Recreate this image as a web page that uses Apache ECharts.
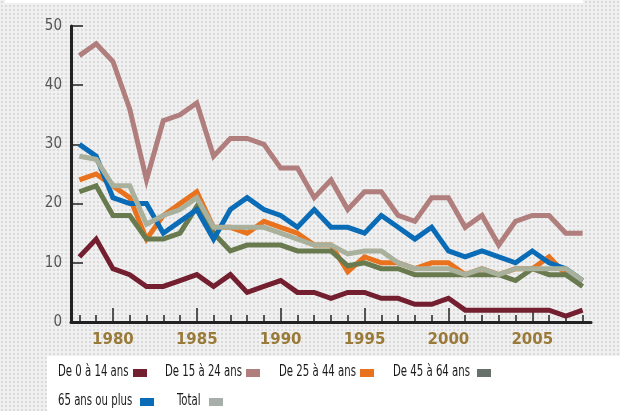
<!DOCTYPE html>
<html><head><meta charset="utf-8">
<script src="https://cdn.jsdelivr.net/npm/echarts@6/dist/echarts.min.js"></script>
<style>html,body{margin:0;padding:0;}#c{width:620px;height:411px;}</style>
</head><body><div id="c"></div>
<script>
const years = ['1978','1979','1980','1981','1982','1983','1984','1985','1986','1987','1988','1989','1990','1991','1992','1993','1994','1995','1996','1997','1998','1999','2000','2001','2002','2003','2004','2005','2006','2007','2008'];
const age0_14  = [11,14,9,8,6,6,7,8,6,8,5,6,7,5,5,4,5,5,4,4,3,3,4,2,2,2,2,2,2,1,2];
const age15_24 = [45,47,44,36,24,34,35,37,28,31,31,30,26,26,21,24,19,22,22,18,17,21,21,16,18,13,17,18,18,15,15];
const age25_44 = [24,25,23,21,14,18,20,22,16,16,15,17,16,15,13,13,8.5,11,10,10,9,10,10,8,9,8,9,9,11,8,7];
const age45_64 = [22,23,18,18,14,14,15,19.5,15,12,13,13,13,12,12,12,9.5,10,9,9,8,8,8,8,8,8,7,9,8,8,6];
const age65    = [30,28,21,20,20,15,17,19,14,19,21,19,18,16,19,16,16,15,18,16,14,16,12,11,12,11,10,12,10,9,7];
const total    = [28,27.5,23,23,16.5,18,19,21,16,16,16,16,15,14,13,13,11.5,12,12,10,9,9,9,8,9,8,9,9,9,9,7];
const yTicks = [0,10,20,30,40,50];

const names = ['De 0 à 14 ans','De 15 à 24 ans','De 25 à 44 ans','De 45 à 64 ans','65 ans ou plus','Total'];
const lineColors = ['#731f30','#b07e7c','#e8721d','#697a4e','#0a6cb6','#a9b09b'];
const swatchColors = ['#731f30','#b07e7c','#e8721d','#67716b','#0a6cb6','#a8aeaa'];

const pc = document.createElement('canvas'); pc.width = 4; pc.height = 4;
const g = pc.getContext('2d'); g.fillStyle = '#f0f0f0'; g.fillRect(0,0,4,4);
g.fillStyle = '#dadada'; g.fillRect(1,1,2,2);

const CFONT = '"DejaVu Sans Condensed","DejaVu Sans",sans-serif';
const LFS = 15.5;
g.font = LFS + 'px "DejaVu Sans Condensed"';
const sx = 77 / g.measureText('De 15 à 24 ans').width;

const chart = echarts.init(document.getElementById('c'), null, {renderer:'canvas'});

function mk(name, data, idx) {
  return {name, type:'line', data, symbol:'none', smooth:false,
    lineStyle:{width:5, color:lineColors[idx], join:'miter', cap:'butt'},
    itemStyle:{color:lineColors[idx]}, z: 2 + idx, animation:false};
}
// legend layout: [text left, text middle y, swatch left, swatch top]
const legendPos = [[58,372,133,369],[165,372,246,369],[279,372,360,369],[393,372,477,369],[58,400.5,140,398],[177,400.5,209,398]];
const legendGraphics = [];
names.forEach((n,i)=>{
  const p = legendPos[i];
  legendGraphics.push({type:'text', x:p[0], y:p[1], scaleX:sx, z:10, silent:true,
    style:{text:n, fontFamily:CFONT, fontSize:LFS, fill:'#1a1a1a', align:'left', verticalAlign:'middle'}});
  legendGraphics.push({type:'rect', shape:{x:p[2], y:p[3], width:14, height:8}, z:10, silent:true,
    style:{fill:swatchColors[i]}});
});

chart.setOption({
  animation:false,
  backgroundColor:{image:pc, repeat:'repeat'},
  graphic:[
    {type:'rect', shape:{x:47,y:356,width:580,height:60}, style:{fill:'#ffffff'}, z:0, silent:true},
    {type:'rect', shape:{x:5,y:0,width:578,height:3}, style:{fill:'#ffffff'}, z:0, silent:true}
  ].concat(legendGraphics),
  grid:{left:71, top:26, width:520, height:296, containLabel:false},
  xAxis:[{
    type:'category', data:years, boundaryGap:true, position:'bottom',
    axisLine:{show:true, lineStyle:{color:'#222', width:3}},
    axisTick:{show:true, inside:true, alignWithLabel:true, interval:0, length:7, lineStyle:{color:'#222', width:1.5}},
    axisLabel:{interval:(i,v)=>(+v)%5===0, margin:11, color:'#9a7a38', fontFamily:'"DejaVu Sans",sans-serif', fontWeight:'bold', fontSize:15},
    splitLine:{show:false}
  },{
    type:'category', data:years, boundaryGap:true, position:'bottom', offset:0,
    axisLine:{show:false},
    axisTick:{show:true, inside:true, alignWithLabel:true, interval:(i,v)=>(+v)%5===0, length:14, lineStyle:{color:'#222', width:1.5}},
    axisLabel:{show:false}, splitLine:{show:false}
  }],
  yAxis:{
    type:'value', min:0, max:50, interval:10,
    axisLine:{show:true, lineStyle:{color:'#222', width:3}},
    axisTick:{show:true, inside:true, length:12, lineStyle:{color:'#222', width:1.5}},
    axisLabel:{margin:9, color:'#555', fontFamily:CFONT, fontSize:15,
      formatter:v=>yTicks.includes(v)?String(v):''},
    splitLine:{show:false}
  },
  series:[
    mk(names[5], total, 5),
    mk(names[3], age45_64, 3),
    mk(names[4], age65, 4),
    mk(names[2], age25_44, 2),
    mk(names[1], age15_24, 1),
    mk(names[0], age0_14, 0)
  ]
});
</script></body></html>
